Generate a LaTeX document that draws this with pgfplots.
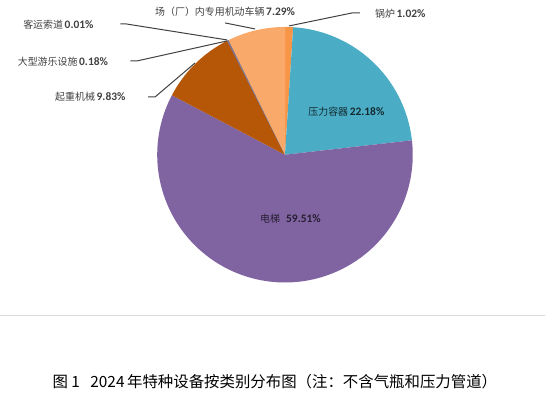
\documentclass[border=0pt]{standalone}
\usepackage{pgfplots}
\pgfplotsset{compat=1.18}
\usepackage{fontspec}
\setmainfont{Noto Sans CJK SC}
\newfontfamily\cjk{Noto Sans CJK SC}
\newfontfamily\numfont{Carlito}
\definecolor{cBoiler}{HTML}{F79646}
\definecolor{cVessel}{HTML}{4BACC6}
\definecolor{cLift}{HTML}{8064A2}
\definecolor{cCrane}{HTML}{B65708}
\definecolor{cRide}{HTML}{7A6E8E}
\definecolor{cRope}{HTML}{8A8A8A}
\definecolor{cVehicle}{HTML}{F9AA6B}
\definecolor{lbl}{HTML}{404040}
\newcommand{\lab}[2]{{\fontsize{10}{12}\selectfont\cjk #1}\,{\fontsize{11.5}{12}\selectfont\numfont\bfseries #2}}
\begin{document}
\begin{tikzpicture}
% shares in percent (clockwise from 12 o'clock)
\def\vBoiler{1.02}
\def\vVessel{22.18}
\def\vLift{59.51}
\def\vCrane{9.83}
\def\vRide{0.18}
\def\vRope{0.01}
\def\vVehicle{7.29}
\pgfmathsetmacro\aA{90}
\pgfmathsetmacro\aB{\aA-3.6*\vBoiler}
\pgfmathsetmacro\aC{\aB-3.6*\vVessel}
\pgfmathsetmacro\aD{\aC-3.6*\vLift}
\pgfmathsetmacro\aE{\aD-3.6*\vCrane}
\pgfmathsetmacro\aF{\aE-3.6*\vRide}
\pgfmathsetmacro\aG{\aF-3.6*\vRope}
\pgfmathsetmacro\aH{\aG-3.6*\vVehicle}
\begin{axis}[x=1bp, y=1bp, xmin=0, xmax=545, ymin=0, ymax=393,
  axis lines=box, axis line style={draw=none}, xtick=\empty, ytick=\empty,
  clip=false, scale only axis]
\addplot[fill=cBoiler, draw=none, domain=\aB:\aA, samples=10] ({285+128*cos(x)},{238+128*sin(x)}) -- (axis cs:285,238) -- cycle;
\addplot[fill=cVessel, draw=none, domain=\aC:\aB, samples=80] ({285+128*cos(x)},{238+128*sin(x)}) -- (axis cs:285,238) -- cycle;
\addplot[fill=cLift, draw=none, domain=\aD:\aC, samples=200] ({285+128*cos(x)},{238+128*sin(x)}) -- (axis cs:285,238) -- cycle;
\addplot[fill=cCrane, draw=none, domain=\aE:\aD, samples=40] ({285+128*cos(x)},{238+128*sin(x)}) -- (axis cs:285,238) -- cycle;
\addplot[fill=cRide, draw=cRide, line width=0.3bp, domain=\aF:\aE, samples=2] ({285+128*cos(x)},{238+128*sin(x)}) -- (axis cs:285,238) -- cycle;
\addplot[fill=cRope, draw=cRope, line width=0.2bp, domain=\aG:\aF, samples=2] ({285+128*cos(x)},{238+128*sin(x)}) -- (axis cs:285,238) -- cycle;
\addplot[fill=cVehicle, draw=none, domain=\aH:\aG, samples=40] ({285+128*cos(x)},{238+128*sin(x)}) -- (axis cs:285,238) -- cycle;
% leader lines
\addplot[lbl, line width=1bp] coordinates {(225,370) (255,364)};
\addplot[lbl, line width=1bp] coordinates {(289,367) (352,380) (360,380)};
\addplot[lbl, line width=1bp] coordinates {(120,369) (126,369) (227,353)};
\addplot[lbl, line width=1bp] coordinates {(130,332) (137,332) (227,352)};
\addplot[lbl, line width=1bp] coordinates {(148,296) (155,296) (195,330)};
% separator line
\addplot[color=black!15, line width=1bp] coordinates {(0,77) (545,77)};
% labels
\node[text=lbl, inner sep=0pt] at (axis cs:225,381) {\lab{场（厂）内专用机动车辆}{7.29\%}};
\node[text=lbl, inner sep=0pt] at (axis cs:400.5,379) {\lab{锅炉}{1.02\%}};
\node[text=lbl, inner sep=0pt] at (axis cs:58,368) {\lab{客运索道}{0.01\%}};
\node[text=lbl, inner sep=0pt] at (axis cs:62.5,331) {\lab{大型游乐设施}{0.18\%}};
\node[text=lbl, inner sep=0pt] at (axis cs:90,296) {\lab{起重机械}{9.83\%}};
\node[text=black!75!cVessel, inner sep=0pt] at (axis cs:346.5,281) {\lab{压力容器}{22.18\%}};
\node[text=black!70!cLift, inner sep=0pt] at (axis cs:290.5,174) {\lab{电梯\ \ }{59.51\%}};
\node[text=black, inner sep=0pt, anchor=west] at (axis cs:52,11) {\fontsize{15.5}{17}\selectfont\cjk 图\ 1\ \ \ 2024\,年特种设备按类别分布图（注：不含气瓶和压力管道）};
\end{axis}
\end{tikzpicture}
\end{document}
